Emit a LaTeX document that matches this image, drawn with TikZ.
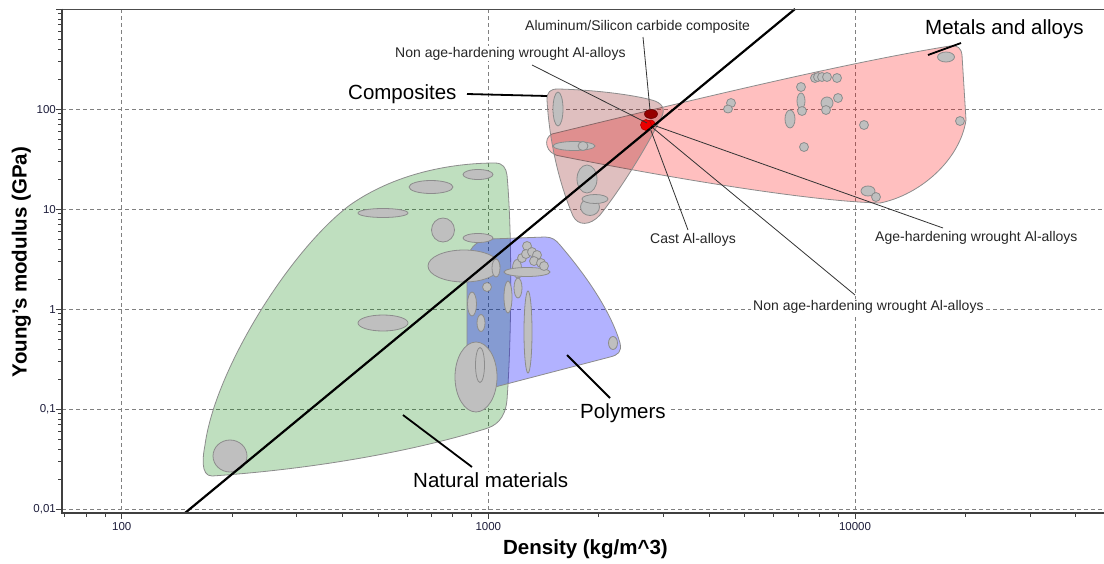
\documentclass[tikz,border=0pt]{standalone}
\usepackage{fontspec}
\setmainfont{Liberation Sans}
\definecolor{natC}{RGB}{0,128,0}
\definecolor{polC}{RGB}{0,0,255}
\definecolor{metC}{RGB}{255,0,0}
\definecolor{comC}{RGB}{128,0,0}
\definecolor{ticktxt}{RGB}{30,30,60}
\definecolor{darkdot}{RGB}{150,0,0}
\definecolor{reddot}{RGB}{235,0,0}
\begin{document}
\begin{tikzpicture}[x=1pt,y=-1pt,
  gridl/.style={draw=black!50, line width=0.7pt, dash pattern=on 4pt off 3pt},
  axisl/.style={draw=black!75, line width=1.3pt},
  tickl/.style={draw=black!75, line width=0.8pt},
  env/.style={draw=black!45, line width=0.8pt},
  blob/.style={draw=black!45, fill=black!25, line width=0.8pt},
  big/.style={font=\fontsize{20.5}{24}\selectfont, fill=white, inner xsep=2pt, inner ysep=1pt, text=black, anchor=base west},
  small/.style={font=\fontsize{14}{16}\selectfont, fill=white, inner xsep=2pt, inner ysep=1pt, text=black!85, anchor=base west},
  bigleader/.style={draw=black, line width=1.8pt},
  smallleader/.style={draw=black!80, line width=0.8pt},
  ticklab/.style={font=\fontsize{11.5}{13}\selectfont, text=ticktxt, inner sep=0pt},
  axtitle/.style={font=\fontsize{20.5}{24}\selectfont\bfseries, inner sep=0pt, anchor=base}
]
\useasboundingbox (0,0) rectangle (1104,563);
\fill[white] (0,0) rectangle (1104,563);

% grid
\foreach \yy in {109.3,209.3,309.3,409.3,509.3} \draw[gridl] (62,\yy) -- (1104,\yy);
\foreach \xx in {121.7,488.3,855} \draw[gridl] (\xx,9) -- (\xx,513);

% envelopes
\path[env, fill=natC, fill opacity=0.25]
  (212,476) .. controls (200,476) and (203,455) .. (205,445)
  .. controls (215,370) and (290,250) .. (350,205)
  .. controls (400,170) and (460,163) .. (495,163)
  .. controls (503,163) and (506,168) .. (507,175)
  .. controls (512,230) and (512,330) .. (507,400)
  .. controls (505,420) and (495,426) .. (485,429)
  .. controls (400,455) and (300,470) .. (212,476) -- cycle;
\path[env, fill=polC, fill opacity=0.3]
  (467,265) .. controls (467,250) and (475,240) .. (490,239) -- (545,237)
  .. controls (552,237) and (556,240) .. (560,245)
  .. controls (590,280) and (612,315) .. (620,343)
  .. controls (622,352) and (618,355) .. (610,357) -- (472,393)
  .. controls (468,394) and (467,392) .. (467,385) -- cycle;
\path[env, fill=metC, fill opacity=0.25]
  (552,134) .. controls (700,98) and (850,62) .. (950,46)
  .. controls (958,45) and (961,48) .. (962,55) -- (966,120)
  .. controls (960,160) and (920,195) .. (880,203)
  .. controls (800,201) and (640,172) .. (560,156)
  .. controls (545,154) and (543,138) .. (552,134) -- cycle;
\path[env, fill=comC, fill opacity=0.25]
  (547,100) .. controls (547,92) and (550,89) .. (558,89)
  .. controls (600,90) and (640,96) .. (655,101)
  .. controls (665,105) and (665,112) .. (660,120)
  .. controls (645,150) and (620,190) .. (600,215)
  .. controls (590,226) and (578,226) .. (573,216)
  .. controls (562,190) and (550,150) .. (547,100) -- cycle;

% gray material bubbles
\foreach \x/\y/\a/\b in {
  230/456/17/16, 383/323/25/8, 383/213/25/4.5, 431/187/22/6.5, 478/174.5/15/5,
  443/230/11.5/12, 478/238/15/4.5, 464/266/36/16, 476/377/21/35, 480/365/4.5/17.5,
  496/268/4/9, 517/268/4.5/8.5, 518/274/4/4, 527/272/23/4.5,
  527/246/4.5/4.5, 522/258/4.5/4.5, 526/254/4.5/4.5, 532/252/4.5/4.5, 537/255/4.5/4.5,
  534/261/4.5/4.5, 541/263/4.5/4.5, 544/266/4.5/4.5,
  487/287/4.5/4.5, 472/304/4.5/12, 481/323/4/8.5, 508/297/4/16, 518/288/4/10,
  528/332/4/41, 613/343/4.5/6.5,
  558/109/5/17, 574/146/21/4.5, 583/146/5/4.5, 587/179/10/14, 590/207/9.5/8.5, 595/199/13/4.5,
  731/103/4.5/4.5, 728/109/4.5/4, 815/78/4.5/4.5, 818/77/4.5/4.5, 822/77/4.5/4.5,
  827/77/4.5/4.5, 837/78/4.5/4.5, 801/87/4.5/4.5, 801/101/4/8, 802/111/4.5/4.5,
  790/119/5/9, 827/103/6/6, 826/110/4.5/4.5, 838/98/4.5/4.5, 864/125/4.5/4.5,
  804/147/4.5/4.5, 960/121/4.5/4.5, 868/191/7/5, 876/197/4.5/4.5, 946/57/8.5/5}
  \draw[blob] (\x,\y) ellipse [x radius=\a, y radius=\b];

% aluminium points
\draw[draw=comC!80!black, fill=darkdot, line width=0.6pt] (651,114) ellipse [x radius=6.5, y radius=4.5];
\draw[draw=red!70!black, fill=reddot, line width=0.6pt] (651,124) ellipse [x radius=4, y radius=4];
\draw[draw=red!70!black, fill=reddot, line width=0.6pt] (646,125) ellipse [x radius=5.5, y radius=5.5];

% E^(1/3)/rho guideline
\coordinate (gA) at (185,513);
\coordinate (gB) at (795,9);
\draw[black, line width=2.2pt] (gA) -- (gB);

% axes
\draw[draw=black!70, line width=0.9pt] (62,9) -- (1104,9);
\draw[axisl] (62,8.5) -- (62,513.5);
\draw[axisl] (61.5,513) -- (1104,513);
\begin{scope}
  \clip (50,0) rectangle (1104,563);
  \foreach \d in {-2,...,2} \foreach \k in {2,...,9}
    \draw[tickl] (62,{309.3-100*(\d+ln(\k)/ln(10))}) -- ++(-4,0);
  \foreach \yy in {9.3,109.3,209.3,309.3,409.3,509.3} \draw[tickl] (62,\yy) -- (56,\yy);
\end{scope}
\begin{scope}
  \clip (61,0) rectangle (1104,563);
  \foreach \d in {1,...,4} \foreach \k in {2,...,9}
    \draw[tickl] ({121.7+366.7*(\d-2+ln(\k)/ln(10))},513) -- ++(0,4);
  \foreach \xx in {121.7,488.3,855} \draw[tickl] (\xx,513) -- (\xx,519);
\end{scope}

% tick labels
\node[ticklab, anchor=east] (y100) at (56,109.3) {100};
\node[ticklab, anchor=east] (y10) at (56,209.3) {10};
\node[ticklab, anchor=east] (y1) at (56,309.3) {1};
\node[ticklab, anchor=east] (y01) at (56,409.3) {0,1};
\node[ticklab, anchor=east] (y001) at (56,509.3) {0,01};
\node[ticklab] (x100) at (121.7,527) {100};
\node[ticklab] (x1000) at (488.3,527) {1000};
\node[ticklab] (x10000) at (855,527) {10000};

% axis titles
\node[axtitle] (xtitle) at (585.5,554.7) {Density (kg/m\^{}3)};
\node[axtitle, rotate=90] (ytitle) at (26.7,262) {Young's modulus (GPa)};

% leader end points
\coordinate (cS) at (467,94);   \coordinate (cE) at (547,96);
\coordinate (mS) at (928,55);   \coordinate (mE) at (961,43);
\coordinate (pS) at (567,355);  \coordinate (pE) at (610,398);
\coordinate (nS) at (403,415);  \coordinate (nE) at (472,467);
\coordinate (sS) at (643,37);   \coordinate (sE) at (650,110);
\coordinate (aS) at (532,65);   \coordinate (aE) at (647,123);
\coordinate (kS) at (688,230);  \coordinate (kE) at (650,128);
\coordinate (hS) at (653,125);  \coordinate (hE) at (943,228);
\coordinate (bS) at (653,128);  \coordinate (bE) at (855,295);

\draw[bigleader] (cS) -- (cE);
\draw[bigleader] (mS) -- (mE);
\draw[bigleader] (pS) -- (pE);
\draw[bigleader] (nS) -- (nE);
\draw[smallleader] (sS) -- (sE);
\draw[smallleader] (aS) -- (aE);
\draw[smallleader] (kE) -- (kS);
\draw[smallleader] (hS) -- (hE);
\draw[smallleader] (bS) -- (bE);

% labels
\node[big] (composites) at (346,99.5) {Composites};
\node[big] (metals) at (923,34.5) {Metals and alloys};
\node[big] (polymers) at (578,418.5) {Polymers};
\node[big] (natural) at (411,487.5) {Natural materials};
\node[small] (alsic) at (523,30.3) {Aluminum/Silicon carbide composite};
\node[small] (nonage1) at (393,57) {Non age-hardening wrought Al-alloys};
\node[small] (cast) at (648,243) {Cast Al-alloys};
\node[small] (agehard) at (873,241.7) {Age-hardening wrought Al-alloys};
\node[small] (nonage2) at (751,310) {Non age-hardening wrought Al-alloys};
\end{tikzpicture}
\end{document}
